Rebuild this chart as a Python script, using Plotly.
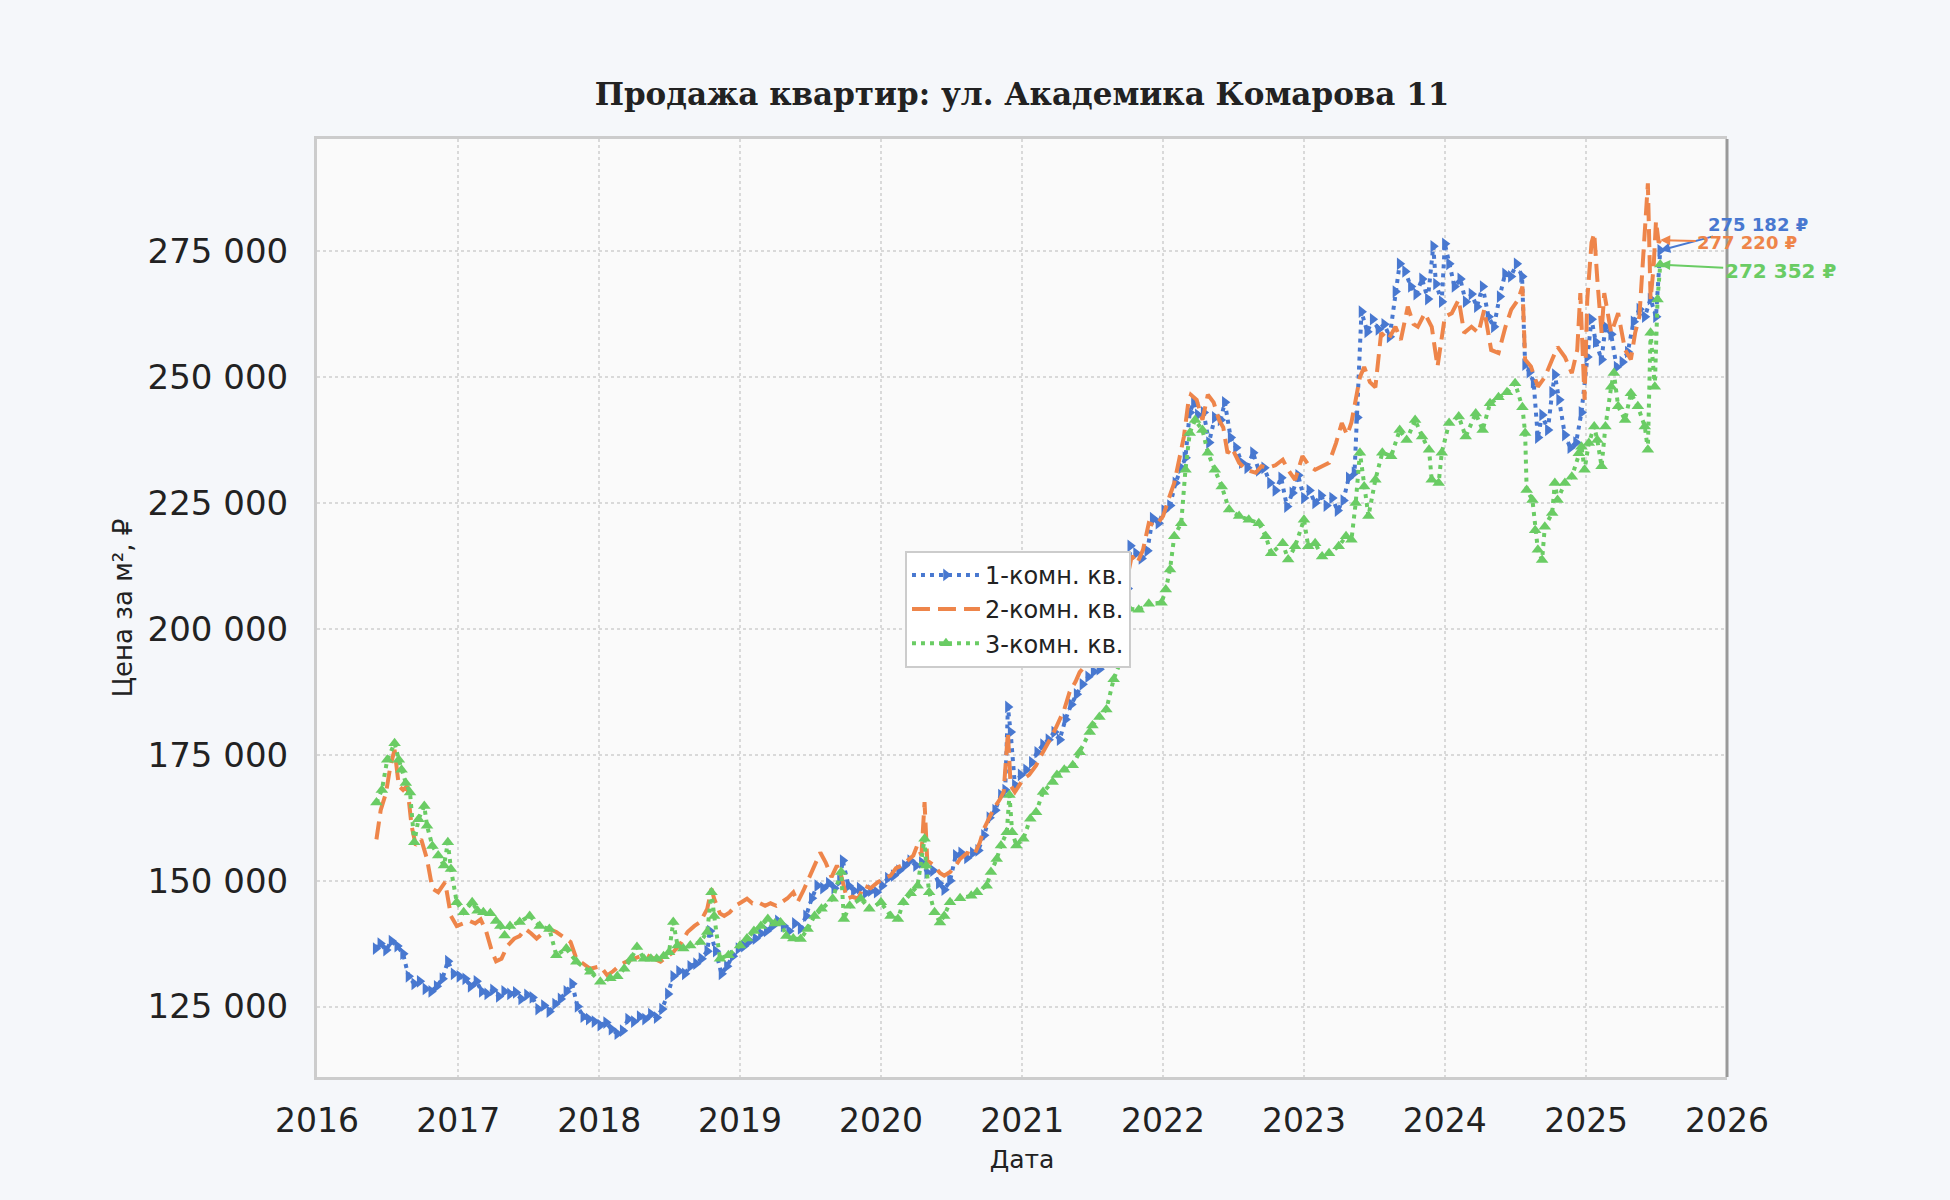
import plotly.graph_objects as go

# price per m2 by room count (date, rub)
ONE_ROOM = [
    ("2016-06-01", 136500), ("2016-06-13", 137500), ("2016-06-28", 136200), ("2016-07-12", 138000),
    ("2016-07-27", 137000), ("2016-08-11", 135500), ("2016-08-25", 131000), ("2016-09-09", 129500),
    ("2016-09-23", 130000), ("2016-10-08", 128500), ("2016-10-23", 128000), ("2016-11-06", 129000),
    ("2016-11-21", 130500), ("2016-12-05", 134000), ("2016-12-20", 131500), ("2017-01-04", 131000),
    ("2017-01-19", 130500), ("2017-02-02", 129000), ("2017-02-17", 130000), ("2017-03-03", 128000),
    ("2017-03-17", 127500), ("2017-04-01", 128300), ("2017-04-16", 127000), ("2017-04-30", 128000),
    ("2017-05-15", 127500), ("2017-05-30", 127800), ("2017-06-13", 126500), ("2017-06-28", 127300),
    ("2017-07-12", 126800), ("2017-07-27", 124500), ("2017-08-11", 125200), ("2017-08-25", 124000),
    ("2017-09-09", 125500), ("2017-09-23", 126500), ("2017-10-08", 128000), ("2017-10-23", 129500),
    ("2017-11-06", 125000), ("2017-11-21", 123000), ("2017-12-05", 122500), ("2017-12-20", 122000),
    ("2018-01-04", 121300), ("2018-01-19", 121800), ("2018-02-02", 120500), ("2018-02-17", 119600),
    ("2018-03-03", 120200), ("2018-03-17", 122500), ("2018-04-01", 122000), ("2018-04-16", 123000),
    ("2018-04-30", 122500), ("2018-05-15", 123500), ("2018-05-30", 122800), ("2018-06-13", 124500),
    ("2018-06-28", 127500), ("2018-07-12", 131000), ("2018-07-27", 132000), ("2018-08-11", 131500),
    ("2018-08-25", 133000), ("2018-09-09", 133500), ("2018-09-23", 134500), ("2018-10-08", 136000),
    ("2018-10-15", 140000), ("2018-10-30", 136000), ("2018-11-14", 131500), ("2018-11-28", 133000),
    ("2018-12-13", 135000), ("2018-12-28", 136500), ("2019-01-11", 137000), ("2019-01-26", 138000),
    ("2019-02-10", 138500), ("2019-02-24", 139500), ("2019-03-11", 140000), ("2019-03-26", 141000),
    ("2019-04-09", 142000), ("2019-04-24", 141000), ("2019-05-08", 140000), ("2019-05-23", 141500),
    ("2019-06-07", 140500), ("2019-06-21", 143000), ("2019-07-06", 146500), ("2019-07-20", 149000),
    ("2019-08-04", 148500), ("2019-08-19", 149500), ("2019-09-02", 148500), ("2019-09-17", 150000),
    ("2019-09-24", 154000), ("2019-10-09", 149000), ("2019-10-23", 148000), ("2019-11-07", 148500),
    ("2019-11-22", 147500), ("2019-12-06", 148000), ("2019-12-21", 147700), ("2020-01-04", 149000),
    ("2020-01-19", 150500), ("2020-02-03", 151000), ("2020-02-17", 152000), ("2020-03-03", 153000),
    ("2020-03-17", 154000), ("2020-04-01", 153000), ("2020-04-16", 153600), ("2020-04-30", 151600),
    ("2020-05-15", 152000), ("2020-05-30", 149500), ("2020-06-13", 148200), ("2020-06-28", 150000),
    ("2020-07-13", 155000), ("2020-07-27", 155500), ("2020-08-11", 154500), ("2020-08-26", 155500),
    ("2020-09-09", 156000), ("2020-09-24", 159000), ("2020-10-08", 162500), ("2020-10-23", 164000),
    ("2020-11-07", 167000), ("2020-11-18", 168000), ("2020-11-25", 184500), ("2020-12-02", 179500),
    ("2020-12-13", 169000), ("2020-12-28", 171000), ("2021-01-11", 172000), ("2021-01-26", 173500),
    ("2021-02-09", 175500), ("2021-02-24", 177000), ("2021-03-10", 178000), ("2021-03-25", 179500),
    ("2021-04-08", 178000), ("2021-04-23", 182000), ("2021-05-08", 185000), ("2021-05-22", 187000),
    ("2021-06-06", 189000), ("2021-06-21", 190500), ("2021-07-05", 191500), ("2021-07-20", 192000),
    ("2021-08-03", 193500), ("2021-08-18", 196000), ("2021-09-02", 199000), ("2021-09-16", 201000),
    ("2021-10-01", 208000), ("2021-10-08", 216500), ("2021-10-23", 215000), ("2021-11-06", 214000),
    ("2021-11-21", 215500), ("2021-12-05", 222000), ("2021-12-20", 221000), ("2022-01-04", 223500),
    ("2022-01-19", 224500), ("2022-02-02", 229000), ("2022-02-17", 232000), ("2022-02-28", 234000),
    ("2022-03-11", 243000), ("2022-03-22", 245000), ("2022-04-01", 242500), ("2022-04-16", 243000),
    ("2022-04-30", 237000), ("2022-05-15", 242000), ("2022-05-30", 241500), ("2022-06-10", 245000),
    ("2022-06-25", 238000), ("2022-07-09", 236000), ("2022-07-24", 233000), ("2022-08-07", 232000),
    ("2022-08-22", 235000), ("2022-09-06", 231500), ("2022-09-20", 232000), ("2022-10-05", 229000),
    ("2022-10-19", 227500), ("2022-11-03", 230000), ("2022-11-18", 224300), ("2022-12-02", 227000),
    ("2022-12-17", 230500), ("2023-01-01", 226000), ("2023-01-15", 227500), ("2023-01-30", 225000),
    ("2023-02-14", 226500), ("2023-02-28", 224500), ("2023-03-15", 226000), ("2023-03-29", 223500),
    ("2023-04-13", 225500), ("2023-04-27", 230000), ("2023-05-12", 231000), ("2023-05-19", 242000),
    ("2023-05-30", 263000), ("2023-06-14", 259000), ("2023-06-28", 261500), ("2023-07-13", 259500),
    ("2023-07-28", 260500), ("2023-08-11", 258000), ("2023-08-26", 267000), ("2023-09-06", 272500),
    ("2023-09-20", 271000), ("2023-10-05", 268000), ("2023-10-19", 266500), ("2023-11-03", 269500),
    ("2023-11-18", 265500), ("2023-12-02", 276000), ("2023-12-09", 268500), ("2023-12-24", 265000),
    ("2024-01-01", 276500), ("2024-01-12", 272500), ("2024-01-26", 268000), ("2024-02-10", 269500),
    ("2024-02-24", 265000), ("2024-03-10", 266500), ("2024-03-24", 264000), ("2024-04-08", 268000),
    ("2024-04-23", 262000), ("2024-05-07", 260000), ("2024-05-22", 266000), ("2024-06-05", 270500),
    ("2024-06-20", 270000), ("2024-07-05", 272500), ("2024-07-19", 270000), ("2024-07-27", 252500),
    ("2024-08-07", 251000), ("2024-08-18", 249000), ("2024-08-29", 238000), ("2024-09-09", 242500),
    ("2024-09-24", 239500), ("2024-10-05", 247000), ("2024-10-12", 250500), ("2024-10-23", 245500),
    ("2024-11-07", 238500), ("2024-11-21", 236000), ("2024-12-06", 237000), ("2024-12-20", 243000),
    ("2025-01-04", 254000), ("2025-01-15", 261500), ("2025-01-26", 257000), ("2025-02-10", 253500),
    ("2025-02-20", 260000), ("2025-03-07", 258500), ("2025-03-21", 252000), ("2025-04-05", 253000),
    ("2025-04-19", 255000), ("2025-05-04", 261000), ("2025-05-19", 263500), ("2025-06-02", 262000),
    ("2025-06-17", 265500), ("2025-07-01", 262000), ("2025-07-12", 275182),
]

TWO_ROOM = [
    ("2016-06-03", 158200), ("2016-06-14", 164000), ("2016-06-28", 167500), ("2016-07-09", 172700),
    ("2016-07-20", 176000), ("2016-07-31", 168800), ("2016-08-11", 168000), ("2016-08-22", 168800),
    ("2016-09-02", 160900), ("2016-09-13", 157000), ("2016-09-27", 158200), ("2016-10-12", 154300),
    ("2016-10-26", 148400), ("2016-11-10", 147700), ("2016-11-28", 149700), ("2016-12-13", 143000),
    ("2016-12-28", 141000), ("2017-01-15", 141500), ("2017-01-30", 142000), ("2017-02-14", 141500),
    ("2017-02-28", 142300), ("2017-03-14", 140000), ("2017-03-29", 136000), ("2017-04-09", 134000),
    ("2017-04-23", 134500), ("2017-05-08", 137000), ("2017-05-26", 138500), ("2017-06-09", 139000),
    ("2017-06-24", 140400), ("2017-07-09", 139500), ("2017-07-23", 138500), ("2017-08-07", 139500),
    ("2017-08-25", 140400), ("2017-09-12", 139800), ("2017-10-01", 138800), ("2017-10-19", 137800),
    ("2017-11-03", 134500), ("2017-11-21", 133500), ("2017-12-09", 132500), ("2018-01-04", 133000),
    ("2018-01-22", 131200), ("2018-02-06", 132000), ("2018-02-24", 133200), ("2018-03-14", 134000),
    ("2018-04-01", 134500), ("2018-04-19", 135000), ("2018-05-04", 135200), ("2018-05-22", 134500),
    ("2018-06-09", 133900), ("2018-06-28", 135000), ("2018-07-12", 135800), ("2018-07-31", 137500),
    ("2018-08-18", 139800), ("2018-09-05", 141000), ("2018-09-20", 141800), ("2018-10-08", 144400),
    ("2018-10-19", 148400), ("2018-10-26", 146400), ("2018-11-10", 143500), ("2018-11-21", 143000),
    ("2018-12-05", 143700), ("2018-12-20", 145000), ("2019-01-04", 145700), ("2019-01-19", 146400),
    ("2019-02-02", 145500), ("2019-02-17", 145700), ("2019-03-07", 145000), ("2019-03-21", 145500),
    ("2019-04-05", 145000), ("2019-04-20", 145700), ("2019-05-04", 146500), ("2019-05-19", 147700),
    ("2019-05-30", 145700), ("2019-06-14", 148000), ("2019-06-28", 150500), ("2019-07-13", 153000),
    ("2019-07-28", 155600), ("2019-08-11", 153600), ("2019-08-26", 150700), ("2019-09-09", 153000),
    ("2019-09-20", 151000), ("2019-10-05", 146400), ("2019-10-19", 146800), ("2019-11-03", 146400),
    ("2019-11-18", 149000), ("2019-12-05", 148500), ("2019-12-24", 149700), ("2020-01-11", 150500),
    ("2020-01-26", 151000), ("2020-02-09", 152500), ("2020-02-24", 153000), ("2020-03-10", 154000),
    ("2020-03-25", 155000), ("2020-04-04", 157000), ("2020-04-15", 155000), ("2020-04-23", 165600),
    ("2020-04-30", 154000), ("2020-05-18", 153000), ("2020-06-02", 151500), ("2020-06-13", 151000),
    ("2020-06-28", 151700), ("2020-07-13", 153000), ("2020-07-24", 154300), ("2020-08-11", 155500),
    ("2020-08-29", 155000), ("2020-09-13", 157500), ("2020-09-24", 160300), ("2020-10-08", 162500),
    ("2020-10-19", 164300), ("2020-11-03", 166000), ("2020-11-14", 167600), ("2020-11-25", 179500),
    ("2020-12-02", 168900), ("2020-12-13", 167600), ("2021-01-04", 170200), ("2021-01-19", 171000),
    ("2021-02-06", 172900), ("2021-02-20", 175000), ("2021-03-07", 176900), ("2021-03-21", 179000),
    ("2021-04-01", 180800), ("2021-04-20", 184000), ("2021-05-04", 187500), ("2021-05-19", 189500),
    ("2021-05-30", 191400), ("2021-06-17", 193000), ("2021-07-05", 195500), ("2021-07-23", 198000),
    ("2021-08-11", 200000), ("2021-08-29", 201500), ("2021-09-13", 205000), ("2021-09-27", 209000),
    ("2021-10-12", 214500), ("2021-10-26", 213000), ("2021-11-10", 215700), ("2021-11-25", 221000),
    ("2021-12-13", 220500), ("2022-01-01", 222400), ("2022-01-15", 225700), ("2022-01-30", 229000),
    ("2022-02-10", 233000), ("2022-02-24", 238200), ("2022-03-07", 244800), ("2022-03-14", 246500),
    ("2022-03-29", 245500), ("2022-04-13", 241500), ("2022-04-27", 246500), ("2022-05-12", 245000),
    ("2022-05-26", 241500), ("2022-06-06", 240000), ("2022-06-17", 234900), ("2022-06-28", 236000),
    ("2022-07-17", 233000), ("2022-08-04", 231600), ("2022-08-29", 231000), ("2022-09-13", 232300),
    ("2022-10-01", 232000), ("2022-10-19", 232500), ("2022-11-07", 233600), ("2022-11-21", 231600),
    ("2022-12-09", 229600), ("2022-12-28", 234300), ("2023-01-15", 232300), ("2023-01-30", 231600),
    ("2023-02-17", 232300), ("2023-03-07", 233000), ("2023-03-25", 236900), ("2023-04-09", 240900),
    ("2023-04-23", 238500), ("2023-05-04", 241000), ("2023-05-15", 245500), ("2023-05-26", 250000),
    ("2023-06-06", 252000), ("2023-06-21", 249000), ("2023-07-05", 248000), ("2023-07-20", 258800),
    ("2023-08-07", 257400), ("2023-08-26", 260000), ("2023-09-09", 257400), ("2023-09-27", 264000),
    ("2023-10-12", 260500), ("2023-10-23", 260000), ("2023-11-10", 262700), ("2023-11-28", 260000),
    ("2023-12-13", 252100), ("2024-01-01", 262000), ("2024-01-19", 262700), ("2024-02-06", 265400),
    ("2024-02-20", 258800), ("2024-03-10", 260000), ("2024-03-28", 258800), ("2024-04-12", 263400),
    ("2024-04-30", 255400), ("2024-05-19", 254800), ("2024-06-06", 260000), ("2024-06-21", 263400),
    ("2024-07-09", 265400), ("2024-07-20", 268000), ("2024-07-27", 253500), ("2024-08-11", 252100),
    ("2024-08-29", 248100), ("2024-09-16", 250000), ("2024-10-05", 253500), ("2024-10-19", 256000),
    ("2024-11-07", 254000), ("2024-11-25", 250800), ("2024-12-09", 255400), ("2024-12-17", 266700),
    ("2024-12-28", 245500), ("2025-01-04", 265400), ("2025-01-15", 276700), ("2025-01-22", 278600),
    ("2025-01-30", 269400), ("2025-02-10", 258800), ("2025-02-17", 266700), ("2025-03-07", 258800),
    ("2025-03-25", 262700), ("2025-04-12", 255400), ("2025-04-27", 253500), ("2025-05-08", 258800),
    ("2025-05-19", 262000), ("2025-06-02", 278600), ("2025-06-10", 288500), ("2025-06-17", 265400),
    ("2025-06-25", 272000), ("2025-07-01", 281000), ("2025-07-08", 276700), ("2025-07-12", 277220),
]

THREE_ROOM = [
    ("2016-06-03", 165500), ("2016-06-17", 168000), ("2016-07-01", 174000), ("2016-07-20", 177300),
    ("2016-07-31", 174000), ("2016-08-07", 172000), ("2016-08-18", 169400), ("2016-08-29", 167500),
    ("2016-09-09", 157600), ("2016-09-20", 162200), ("2016-10-05", 164800), ("2016-10-12", 160900),
    ("2016-10-26", 156900), ("2016-11-10", 155000), ("2016-11-25", 153000), ("2016-12-05", 157600),
    ("2016-12-13", 152300), ("2016-12-28", 145700), ("2017-01-15", 143700), ("2017-02-06", 145700),
    ("2017-02-20", 144000), ("2017-03-07", 143700), ("2017-03-25", 143500), ("2017-04-09", 142000),
    ("2017-04-20", 141000), ("2017-05-01", 139100), ("2017-05-15", 141000), ("2017-06-09", 141800),
    ("2017-07-05", 143000), ("2017-07-31", 141000), ("2017-08-25", 140400), ("2017-09-12", 135200),
    ("2017-10-08", 136500), ("2017-11-03", 133900), ("2017-12-09", 131900), ("2018-01-04", 129900),
    ("2018-01-30", 130600), ("2018-02-17", 131000), ("2018-03-07", 132500), ("2018-03-25", 134500),
    ("2018-04-09", 136800), ("2018-04-27", 134500), ("2018-05-15", 134500), ("2018-05-30", 134500),
    ("2018-06-17", 135000), ("2018-07-01", 135800), ("2018-07-12", 141800), ("2018-07-23", 137100),
    ("2018-08-07", 136500), ("2018-08-25", 137100), ("2018-09-20", 137800), ("2018-10-08", 139800),
    ("2018-10-19", 147700), ("2018-10-26", 143000), ("2018-11-10", 134500), ("2018-12-02", 135200),
    ("2019-01-01", 137100), ("2019-01-19", 138500), ("2019-02-06", 140000), ("2019-02-24", 141000),
    ("2019-03-14", 142400), ("2019-04-01", 141500), ("2019-04-16", 141700), ("2019-05-01", 139000),
    ("2019-05-19", 138500), ("2019-06-07", 138400), ("2019-06-25", 140400), ("2019-07-13", 143000),
    ("2019-07-31", 144400), ("2019-08-29", 146400), ("2019-09-20", 151700), ("2019-09-27", 142400),
    ("2019-10-12", 145000), ("2019-11-10", 146400), ("2019-12-02", 144400), ("2020-01-01", 145700),
    ("2020-01-26", 143000), ("2020-02-14", 142400), ("2020-02-28", 145700), ("2020-03-18", 147500),
    ("2020-04-05", 149000), ("2020-04-23", 158300), ("2020-04-27", 153000), ("2020-05-05", 147700),
    ("2020-05-19", 143700), ("2020-06-02", 141700), ("2020-06-13", 143000), ("2020-06-28", 145700),
    ("2020-07-24", 146500), ("2020-08-22", 147000), ("2020-09-06", 147700), ("2020-10-01", 149000),
    ("2020-10-12", 151700), ("2020-10-27", 154300), ("2020-11-07", 157000), ("2020-11-22", 159600),
    ("2020-11-29", 167000), ("2020-12-06", 159600), ("2020-12-17", 157000), ("2021-01-04", 158300),
    ("2021-01-22", 162300), ("2021-02-06", 163600), ("2021-02-24", 167600), ("2021-03-21", 169600),
    ("2021-04-01", 171000), ("2021-04-20", 172000), ("2021-05-12", 172900), ("2021-05-30", 175500),
    ("2021-06-25", 179500), ("2021-07-02", 180800), ("2021-07-20", 182500), ("2021-08-07", 184000),
    ("2021-08-26", 190000), ("2021-09-09", 192800), ("2021-09-20", 199000), ("2021-10-05", 204000),
    ("2021-10-30", 203800), ("2021-11-25", 205000), ("2021-12-28", 205200), ("2022-01-08", 207800),
    ("2022-01-19", 211800), ("2022-01-30", 218400), ("2022-02-17", 221000), ("2022-02-28", 231600),
    ("2022-03-11", 238900), ("2022-03-25", 241500), ("2022-04-13", 239500), ("2022-04-27", 235000),
    ("2022-05-15", 231600), ("2022-06-02", 228300), ("2022-06-21", 223700), ("2022-07-17", 222400),
    ("2022-08-11", 221700), ("2022-09-06", 221000), ("2022-09-24", 218400), ("2022-10-08", 215000),
    ("2022-11-07", 217000), ("2022-11-21", 213800), ("2022-12-09", 216400), ("2023-01-01", 221700),
    ("2023-01-12", 216400), ("2023-01-30", 217000), ("2023-02-17", 214400), ("2023-03-07", 215000),
    ("2023-04-01", 216400), ("2023-04-20", 218400), ("2023-05-04", 217700), ("2023-05-15", 225000),
    ("2023-05-26", 235000), ("2023-06-06", 228300), ("2023-06-17", 222400), ("2023-07-05", 229600),
    ("2023-07-23", 235000), ("2023-08-15", 234300), ("2023-09-06", 239500), ("2023-09-24", 237500),
    ("2023-10-16", 241500), ("2023-11-03", 238200), ("2023-11-21", 235600), ("2023-11-28", 229600),
    ("2023-12-16", 229000), ("2023-12-24", 235000), ("2024-01-12", 240900), ("2024-02-06", 242200),
    ("2024-02-24", 238200), ("2024-03-21", 242800), ("2024-04-08", 239500), ("2024-04-27", 244800),
    ("2024-05-19", 246000), ("2024-06-10", 247000), ("2024-07-01", 248800), ("2024-07-20", 244000),
    ("2024-07-27", 238900), ("2024-07-31", 227600), ("2024-08-15", 225600), ("2024-08-22", 219600),
    ("2024-08-29", 215700), ("2024-09-09", 213700), ("2024-09-16", 220300), ("2024-10-05", 223000),
    ("2024-10-12", 229000), ("2024-10-19", 225600), ("2024-11-07", 229000), ("2024-11-25", 230200),
    ("2024-12-13", 234900), ("2024-12-20", 236200), ("2024-12-28", 231600), ("2025-01-08", 236900),
    ("2025-01-22", 240200), ("2025-01-30", 237500), ("2025-02-10", 232300), ("2025-02-20", 240200),
    ("2025-03-07", 248100), ("2025-03-14", 250800), ("2025-03-25", 244200), ("2025-04-12", 241500),
    ("2025-04-27", 246800), ("2025-05-15", 244200), ("2025-06-02", 240200), ("2025-06-10", 235600),
    ("2025-06-17", 258800), ("2025-06-28", 248100), ("2025-07-05", 265400), ("2025-07-12", 272352),
]

SERIES_NAMES = ["1-комн. кв.", "2-комн. кв.", "3-комн. кв."]
COLORS = ["#4878d0", "#ee854a", "#6acc64"]
Y_TICKS = [125000, 150000, 175000, 200000, 225000, 250000, 275000]


def fmt_rub(v):
    return f"{v:,}".replace(",", " ") + " ₽"


fig = go.Figure()

styles = [
    dict(dash="4px,5px", symbol="triangle-right"),
    dict(dash="18px,8px", symbol=None),
    dict(dash="4px,5px", symbol="triangle-up"),
]

for data, name, color, st in zip([ONE_ROOM, TWO_ROOM, THREE_ROOM], SERIES_NAMES, COLORS, styles):
    xs = [d for d, _ in data]
    ys = [v for _, v in data]
    if st["symbol"]:
        fig.add_trace(go.Scatter(
            x=xs, y=ys, name=name, mode="lines+markers",
            line=dict(color=color, width=4, dash=st["dash"]),
            marker=dict(symbol=st["symbol"], size=11, color=color),
        ))
    else:
        fig.add_trace(go.Scatter(
            x=xs, y=ys, name=name, mode="lines",
            line=dict(color=color, width=4, dash=st["dash"]),
        ))

# labels with the last price
offsets = [(98, -26, 18), (87, 2, 18), (120, 6, 20)]
annots = []
for data, color, (ax, ay, fs) in zip([ONE_ROOM, TWO_ROOM, THREE_ROOM], COLORS, offsets):
    d, v = data[-1]
    annots.append(dict(
        x=d, y=v, xref="x", yref="y", text="<b>" + fmt_rub(v) + "</b>",
        ax=ax, ay=ay, showarrow=True, arrowhead=2, arrowsize=1, arrowwidth=2,
        arrowcolor=color, font=dict(color=color, size=fs, family="DejaVu Sans"),
    ))

fig.update_layout(
    width=1950, height=1200,
    paper_bgcolor="#f5f7fa", plot_bgcolor="#fafafa",
    margin=dict(l=317, r=223, t=139, b=123),
    font=dict(family="DejaVu Sans", color="#222222"),
    title=dict(
        text="Продажа квартир: ул. Академика Комарова 11",
        font=dict(family="DejaVu Serif", size=31, color="#222222", weight="bold"),
        x=(317 + 1727) / 2 / 1950, xanchor="center", y=1 - 94 / 1200, yanchor="middle",
    ),
    legend=dict(
        x=0.417, y=0.561, xanchor="left", yanchor="top",
        bgcolor="#ffffff", bordercolor="#cccccc", borderwidth=2,
        font=dict(size=24, color="#222222"), itemwidth=68,
    ),
    separators=". ",
    annotations=annots,
    shapes=[dict(type="line", xref="paper", yref="paper", x0=1, x1=1, y0=0, y1=1,
                 line=dict(color="#999999", width=3), layer="above")],
)

fig.update_xaxes(
    type="date", range=["2016-01-01", "2026-01-01"],
    tick0="2016-01-01", dtick="M12", tickformat="%Y",
    tickfont=dict(size=33, color="#222222"), ticklabelstandoff=12,
    showgrid=True, gridcolor="#d9d9d9", griddash="dot", gridwidth=2,
    showline=True, linecolor="#cccccc", linewidth=3, mirror=True,
    zeroline=False,
    title=dict(text="Дата", font=dict(size=25, color="#222222"), standoff=12),
)
fig.update_yaxes(
    range=[111000, 297300], tickvals=Y_TICKS,
    tickformat=",d",
    tickfont=dict(size=34, color="#222222"), ticklabelstandoff=19,
    showgrid=True, gridcolor="#d9d9d9", griddash="dot", gridwidth=2,
    showline=True, linecolor="#cccccc", linewidth=3,
    zeroline=False,
    title=dict(text="Цена за м², ₽", font=dict(size=26, color="#222222"), standoff=8),
)

fig.write_html("out.html", config={"displayModeBar": False},
               post_script="document.body.style.margin='0';")
